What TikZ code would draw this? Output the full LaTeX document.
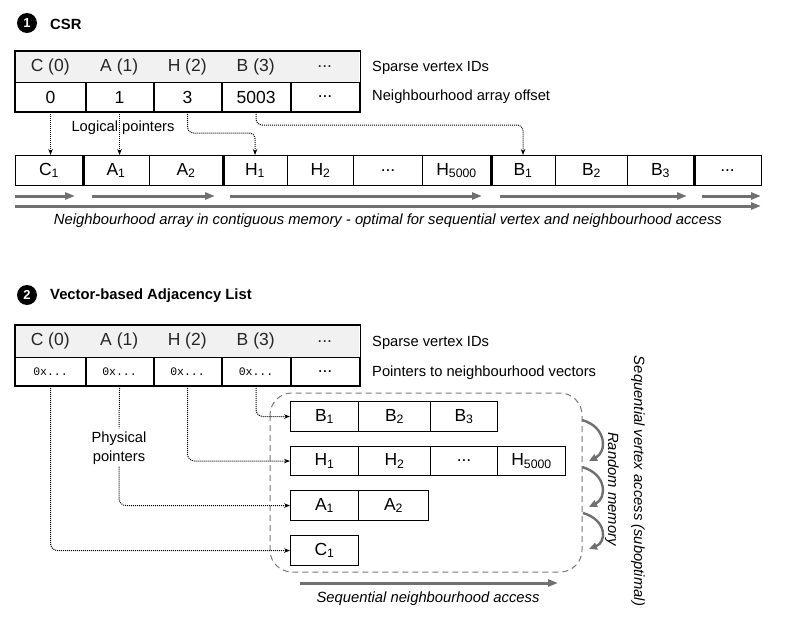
\documentclass[tikz,border=0pt]{standalone}
\usepackage{fontspec}
\setmainfont{Liberation Sans}
\setmonofont{Liberation Mono}
\usetikzlibrary{arrows.meta,calc}
\definecolor{hdrgray}{HTML}{F1F1F1}
\definecolor{arrgray}{HTML}{707070}
\definecolor{boxgray}{HTML}{7A7A7A}
\tikzset{
  cellfont/.style={font=\fontsize{17.5}{17.5}\selectfont},
  hcell/.style={fill=hdrgray, draw=none, inner sep=0pt, anchor=north west, text=black!85, cellfont},
  cell/.style={draw=black, line width=1.1pt, inner sep=0pt, anchor=north west, cellfont},
  mcell/.style={cell, font=\ttfamily\fontsize{11.5}{11.5}\selectfont},
  thickdiv/.style={line width=2pt, black},
  heavydiv/.style={line width=3pt, black},
  ptr/.style={densely dotted, line width=1pt, black, -{Stealth[length=6pt,width=4.5pt]}},
  ptrnt/.style={densely dotted, line width=1pt, black},
  garrow/.style={line width=3pt, arrgray, -{Triangle[length=10pt,width=7pt]}},
  garc/.style={line width=2.4pt, arrgray, -{Triangle[length=8pt,width=7pt]}},
  lbl/.style={anchor=west, inner sep=0pt, font=\fontsize{14.7}{17}\selectfont},
  captxt/.style={inner sep=0pt, font=\itshape\fontsize{14.8}{17}\selectfont},
  numc/.style={circle, fill=black, text=white, inner sep=0pt, minimum size=20pt, font=\bfseries\fontsize{13}{13}\selectfont},
  ttl/.style={anchor=west, inner sep=0pt, font=\bfseries\fontsize{14.8}{17}\selectfont},
}
\begin{document}
\begin{tikzpicture}[x=1pt,y=-1pt]
\useasboundingbox (0,0) rectangle (785,634);

% ---------------- Section 1: CSR ----------------
\node[numc] (n1) at (27,23) {1};
\node[ttl] (t1) at (50,24) {CSR};

% header row
\node[hcell, minimum width=70pt, minimum height=31pt] (s0) at (15,51) {C (0)};
\node[hcell, minimum width=68pt, minimum height=31pt] (s1) at (85,51) {A (1)};
\node[hcell, minimum width=68pt, minimum height=31pt] (s2) at (153,51) {H (2)};
\node[hcell, minimum width=69pt, minimum height=31pt] (s3) at (221,51) {B (3)};
\node[hcell, minimum width=69pt, minimum height=31pt] (s4) at (290,51) {...};
% offset row
\node[cell, minimum width=70pt, minimum height=29pt] (o0) at (15,82) {0};
\node[cell, minimum width=68pt, minimum height=29pt] (o1) at (85,82) {1};
\node[cell, minimum width=68pt, minimum height=29pt] (o2) at (153,82) {3};
\node[cell, minimum width=69pt, minimum height=29pt] (o3) at (221,82) {5003};
\node[cell, minimum width=69pt, minimum height=29pt] (o4) at (290,82) {...};
\draw[line width=1.1pt] (s0.north west) rectangle (o4.south east);
\foreach \c in {o0,o1,o2,o3} \draw[thickdiv] (\c.north east) -- (\c.south east);

\node[lbl] (l1a) at (372,68) {Sparse vertex IDs};
\node[lbl] (l1b) at (372,97) {Neighbourhood array offset};

% neighbourhood array
\node[cell, minimum width=67pt, minimum height=30pt] (ac1) at (15,155) {C\textsubscript{1}};
\node[cell, minimum width=67pt, minimum height=30pt] (aa1) at (82,155) {A\textsubscript{1}};
\node[cell, minimum width=73pt, minimum height=30pt] (aa2) at (149,155) {A\textsubscript{2}};
\node[cell, minimum width=65pt, minimum height=30pt] (ah1) at (222,155) {H\textsubscript{1}};
\node[cell, minimum width=66pt, minimum height=30pt] (ah2) at (287,155) {H\textsubscript{2}};
\node[cell, minimum width=69pt, minimum height=30pt] (ahd) at (353,155) {...};
\node[cell, minimum width=68pt, minimum height=30pt] (ah5) at (422,155) {H\textsubscript{5000}};
\node[cell, minimum width=65pt, minimum height=30pt] (ab1) at (490,155) {B\textsubscript{1}};
\node[cell, minimum width=72pt, minimum height=30pt] (ab2) at (555,155) {B\textsubscript{2}};
\node[cell, minimum width=66pt, minimum height=30pt] (ab3) at (627,155) {B\textsubscript{3}};
\node[cell, minimum width=68pt, minimum height=30pt] (abd) at (693,155) {...};
\foreach \c in {ac1,aa2,ah5,ab3} \draw[heavydiv] (\c.north east) -- (\c.south east);

% logical pointers
\node[inner sep=0pt, font=\fontsize{14.7}{17}\selectfont] (lp) at (123,128) {Logical pointers};
\draw[ptr] (o0.south) -- (o0.south |- ac1.north);
\draw[ptr] (o1.south) -- (o1.south |- aa1.north);
\draw[ptr, rounded corners=6pt] (o2.south) |- ([yshift=22pt]ah1.north) -- (ah1.north);
\draw[ptr, rounded corners=6pt] (o3.south) |- ([yshift=30pt]ab1.north) -- (ab1.north);

% access arrows
\draw[garrow] (15,196) -- (75,196);
\draw[garrow] (92,196) -- (215,196);
\draw[garrow] (230,196) -- (482,196);
\draw[garrow] (500,196) -- (687,196);
\draw[garrow] (702,196) -- (761,196);
\draw[garrow] (15,206) -- (761,206);
\node[captxt] (cap1) at (388,221) {Neighbourhood array in contiguous memory - optimal for sequential vertex and neighbourhood access};

% ---------------- Section 2: Vector-based adjacency list ----------------
\node[numc] (n2) at (27,295) {2};
\node[ttl] (t2) at (50,296) {Vector-based Adjacency List};

\node[hcell, minimum width=70pt, minimum height=32pt] (u0) at (15,325) {C (0)};
\node[hcell, minimum width=68pt, minimum height=32pt] (u1) at (85,325) {A (1)};
\node[hcell, minimum width=68pt, minimum height=32pt] (u2) at (153,325) {H (2)};
\node[hcell, minimum width=69pt, minimum height=32pt] (u3) at (221,325) {B (3)};
\node[hcell, minimum width=69pt, minimum height=32pt] (u4) at (290,325) {...};
\node[mcell, minimum width=70pt, minimum height=28pt] (p0) at (15,357) {0x...};
\node[mcell, minimum width=68pt, minimum height=28pt] (p1) at (85,357) {0x...};
\node[mcell, minimum width=68pt, minimum height=28pt] (p2) at (153,357) {0x...};
\node[mcell, minimum width=69pt, minimum height=28pt] (p3) at (221,357) {0x...};
\node[cell, minimum width=69pt, minimum height=28pt] (p4) at (290,357) {...};
\draw[line width=1.1pt] (u0.north west) rectangle (p4.south east);
\foreach \c in {p0,p1,p2,p3} \draw[thickdiv] (\c.north east) -- (\c.south east);

\node[lbl] (l2a) at (372,343) {Sparse vertex IDs};
\node[lbl] (l2b) at (372,373) {Pointers to neighbourhood vectors};

% dashed region
\draw[boxgray, line width=1pt, dash pattern=on 6pt off 4pt, rounded corners=22pt] (270,393) rectangle (582,572);

% vectors
\node[cell, minimum width=68pt, minimum height=30pt] (vb1) at (290,401) {B\textsubscript{1}};
\node[cell, minimum width=72pt, minimum height=30pt] (vb2) at (358,401) {B\textsubscript{2}};
\node[cell, minimum width=67pt, minimum height=30pt] (vb3) at (430,401) {B\textsubscript{3}};
\node[cell, minimum width=68pt, minimum height=29pt] (vh1) at (290,446) {H\textsubscript{1}};
\node[cell, minimum width=72pt, minimum height=29pt] (vh2) at (358,446) {H\textsubscript{2}};
\node[cell, minimum width=67pt, minimum height=29pt] (vh3) at (430,446) {...};
\node[cell, minimum width=68pt, minimum height=29pt] (vh4) at (497,446) {H\textsubscript{5000}};
\node[cell, minimum width=68pt, minimum height=30pt] (va1) at (290,490) {A\textsubscript{1}};
\node[cell, minimum width=70pt, minimum height=30pt] (va2) at (358,490) {A\textsubscript{2}};
\node[cell, minimum width=68pt, minimum height=30pt] (vc1) at (290,535) {C\textsubscript{1}};

% physical pointers
\node[inner sep=0pt, align=center, font=\fontsize{14.7}{19}\selectfont] (pp) at (119,448) {Physical\\pointers};
\draw[ptr, rounded corners=7pt] (p0.south) |- (vc1.west);
\draw[ptrnt] (p1.south) -- ([yshift=3pt]pp.north);
\draw[ptr, rounded corners=7pt] ([yshift=-2pt]pp.south) |- (va1.west);
\draw[ptr, rounded corners=7pt] (p2.south) |- (vh1.west);
\draw[ptr, rounded corners=7pt] (p3.south) |- (vb1.west);

% random memory jumps
\draw[garc] (582,420) .. controls (607,427) and (607,452) .. (589,461);
\draw[garc] (582,467) .. controls (607,474) and (607,498) .. (589,507);
\draw[garc] (583,513) .. controls (607,520) and (607,542) .. (589,549);
\node[captxt, rotate=-90] (rm) at (612,489) {Random memory};
\node[captxt, rotate=-90] (sva) at (638,481) {Sequential vertex access (suboptimal)};

% sequential neighbourhood access
\draw[garrow] (300,583) -- (558,583);
\node[captxt] (cap2) at (428,599) {Sequential neighbourhood access};
\end{tikzpicture}
\end{document}
